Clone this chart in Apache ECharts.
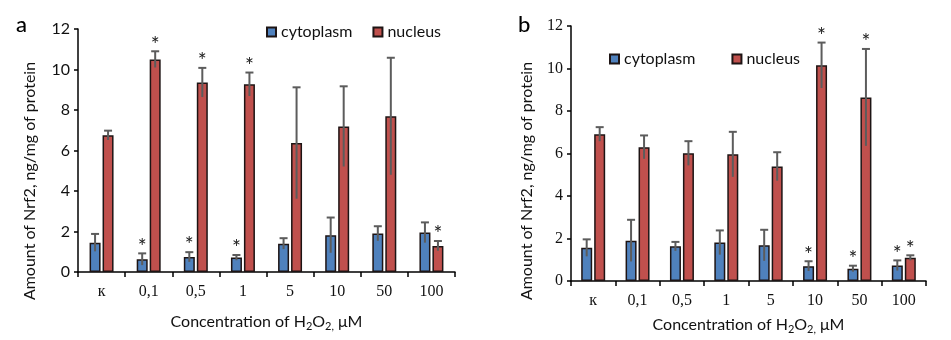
<!DOCTYPE html>
<html>
<head>
<meta charset="utf-8">
<script src="https://cdn.jsdelivr.net/npm/echarts/dist/echarts.min.js"></script>
<style>
  html, body { margin: 0; padding: 0; background: #fff; }
  #chart { width: 951px; height: 340px; }
</style>
</head>
<body>
<div id="chart"></div>
<script>
// H2O2 concentrations (к = control)
const categories = ['к', '0,1', '0,5', '1', '5', '10', '50', '100'];
const yTicks = [0, 2, 4, 6, 8, 10, 12];

// Panel a: Nrf2, ng/mg of protein (mean and error)
const aCyto    = [1.45, 0.63, 0.74, 0.71, 1.40, 1.82, 1.90, 1.95];
const aCytoErr = [0.43, 0.29, 0.24, 0.13, 0.27, 0.87, 0.36, 0.50];
const aNuc     = [6.75, 10.50, 9.36, 9.27, 6.37, 7.19, 7.69, 1.29];
const aNucErr  = [0.23, 0.40, 0.72, 0.58, 2.75, 1.98, 2.89, 0.24];
const aCytoSig = [0, 1, 1, 1, 0, 0, 0, 0];
const aNucSig  = [0, 1, 1, 1, 0, 0, 0, 1];

// Panel b
const bCyto    = [1.56, 1.90, 1.63, 1.81, 1.68, 0.70, 0.58, 0.73];
const bCytoErr = [0.40, 0.98, 0.21, 0.57, 0.73, 0.23, 0.14, 0.24];
const bNuc     = [6.91, 6.30, 6.01, 5.96, 5.39, 10.15, 8.64, 1.09];
const bNucErr  = [0.33, 0.55, 0.57, 1.06, 0.67, 1.07, 2.28, 0.12];
const bCytoSig = [0, 0, 0, 0, 0, 1, 1, 1];
const bNucSig  = [0, 0, 0, 0, 0, 1, 1, 1];

const BLUE = '#4F81BD';
const RED = '#C0504D';
const EDGE = '#1d1414';
const SANS = 'Lato, "Open Sans", sans-serif';
const SERIF = '"Liberation Serif", "DejaVu Serif", serif';
const BAR_W = 11;
const HALF_STEP = 6.5; // distance from category centre to each bar centre

function errData(vals, errs, sig) {
  return vals.map((v, i) => [i, v, errs[i], sig[i]]);
}

// error bar plus optional significance star, drawn over a grouped bar
function errRenderer(offset) {
  return function (params, api) {
    const i = api.value(0);
    const v = api.value(1);
    const e = api.value(2);
    const s = api.value(3);
    const top = api.coord([i, v + e]);
    const bot = api.coord([i, v - e]);
    const x = top[0] + offset;
    const cap = 4;
    const stroke = { stroke: '#5c5c5c', lineWidth: 2 };
    const children = [
      { type: 'line', shape: { x1: x, y1: top[1], x2: x, y2: bot[1] }, style: stroke },
      { type: 'line', shape: { x1: x - cap, y1: top[1], x2: x + cap, y2: top[1] }, style: stroke }
    ];
    if (s) {
      children.push({
        type: 'text',
        style: {
          text: '*', x: x, y: top[1] - 17,
          align: 'center', verticalAlign: 'top',
          font: '21px ' + SANS, fill: '#222'
        }
      });
    }
    return { type: 'group', children: children };
  };
}

const xTitleRich = {
  m: { fontFamily: SANS, fontSize: 16, color: '#111' },
  s: { fontFamily: SANS, fontSize: 11, color: '#111', padding: [9, 0, 0, 0] }
};
const xTitle = '{m|Concentration of H}{s|2}{m|O}{s|2,}{m| μM}';
const yTitle = 'Amount of Nrf2, ng/mg of protein';

function xAxisFor(gridIndex, nameGap) {
  return {
    type: 'category', gridIndex: gridIndex, data: categories,
    axisLine: { lineStyle: { color: '#000', width: 1.5 } },
    axisTick: { show: true, length: 5, lineStyle: { color: '#000', width: 1.5 } },
    axisLabel: { fontFamily: SERIF, fontSize: 16, color: '#111', margin: 12 },
    name: xTitle, nameLocation: 'middle', nameGap: nameGap,
    nameTextStyle: { rich: xTitleRich }
  };
}
function yAxisFor(gridIndex, font) {
  return {
    type: 'value', gridIndex: gridIndex, min: yTicks[0], max: yTicks[yTicks.length - 1], interval: 2,
    axisLine: { show: true, lineStyle: { color: '#000', width: 1.5 } },
    axisTick: { show: true, length: 4, lineStyle: { color: '#000', width: 1.5 } },
    splitLine: { show: false },
    axisLabel: { fontFamily: font, fontSize: 16, color: '#111', margin: 8 }
  };
}
function barSeries(name, data, color, idx) {
  return {
    name: name, type: 'bar', data: data, xAxisIndex: idx, yAxisIndex: idx,
    barWidth: BAR_W, barGap: '18%',
    itemStyle: { color: color, borderColor: EDGE, borderWidth: 1.5 }
  };
}
function errSeries(data, offset, idx) {
  return {
    type: 'custom', data: data, xAxisIndex: idx, yAxisIndex: idx, z: 5,
    encode: { x: 0, y: 1 }, renderItem: errRenderer(offset), silent: true
  };
}
// vertical y-axis title, placed by its centre
function yTitleText(cx, cy) {
  return {
    type: 'text', x: cx, y: cy, rotation: Math.PI / 2,
    style: { text: yTitle, font: '16px ' + SANS, fill: '#111', align: 'center', verticalAlign: 'middle' }
  };
}
const legendStyle = {
  icon: 'rect', itemWidth: 9, itemHeight: 9,
  textStyle: { fontFamily: SANS, fontSize: 16, color: '#111' },
  data: ['cytoplasm', 'nucleus']
};

const chart = echarts.init(document.getElementById('chart'));
chart.setOption({
  animation: false,
  backgroundColor: '#fff',
  graphic: [
    { type: 'text', left: 16, top: 14, style: { text: 'a', font: '500 22px ' + SANS, fill: '#000' } },
    { type: 'text', left: 518, top: 14, style: { text: 'b', font: '500 22px ' + SANS, fill: '#000' } },
    yTitleText(30, 181),
    yTitleText(527, 181)
  ],
  legend: [
    Object.assign({ left: 261, top: 19, itemGap: 20 }, legendStyle),
    Object.assign({ left: 604, top: 46, itemGap: 36 }, legendStyle)
  ],
  grid: [
    { left: 78, top: 29, width: 377, height: 243 },
    { left: 571, top: 26, width: 355, height: 257 }
  ],
  xAxis: [xAxisFor(0, 40), xAxisFor(1, 34)],
  yAxis: [yAxisFor(0, SANS), yAxisFor(1, SERIF)],
  series: [
    barSeries('cytoplasm', aCyto, BLUE, 0),
    barSeries('nucleus', aNuc, RED, 0),
    errSeries(errData(aCyto, aCytoErr, aCytoSig), -HALF_STEP, 0),
    errSeries(errData(aNuc, aNucErr, aNucSig), HALF_STEP, 0),
    barSeries('cytoplasm', bCyto, BLUE, 1),
    barSeries('nucleus', bNuc, RED, 1),
    errSeries(errData(bCyto, bCytoErr, bCytoSig), -HALF_STEP, 1),
    errSeries(errData(bNuc, bNucErr, bNucSig), HALF_STEP, 1)
  ]
});
</script>
</body>
</html>
